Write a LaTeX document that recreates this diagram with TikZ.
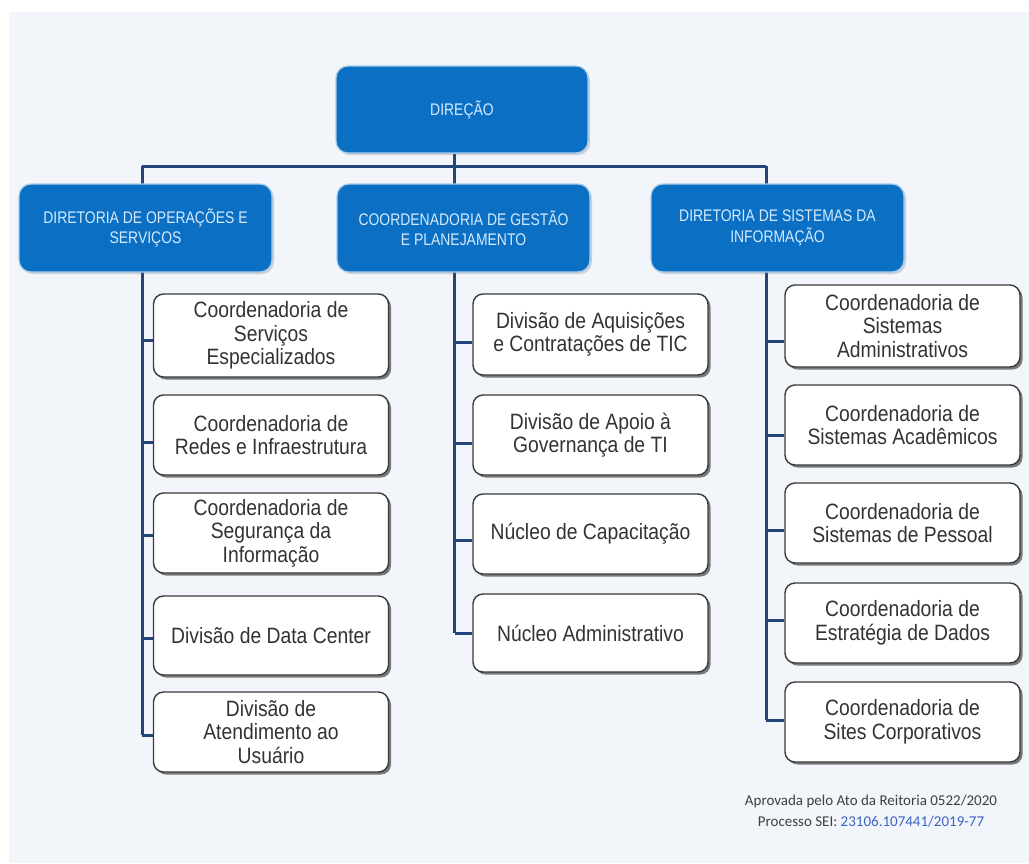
\documentclass[tikz,border=0pt]{standalone}
\usepackage{fontspec}
\setmainfont{Liberation Sans}
\newfontfamily\headfont[FakeStretch=0.83]{Liberation Sans}
\newfontfamily\unitfont[FakeStretch=0.87]{Liberation Sans}
\newfontfamily\notefont{Carlito}
\usetikzlibrary{shadows}

\definecolor{panelbg}{HTML}{F2F6FA}
\definecolor{headblue}{HTML}{0B6FC4}
\definecolor{headedge}{HTML}{A8CBEA}
\definecolor{headtext}{HTML}{D4EAFC}
\definecolor{linkblue}{HTML}{23467A}
\definecolor{unitedge}{HTML}{3A3A3A}
\definecolor{unittext}{HTML}{333333}
\definecolor{notetext}{HTML}{404040}
\definecolor{noteblue}{HTML}{3E63C4}

\pgfdeclarelayer{under}
\pgfsetlayers{under,main}

\begin{document}
\begin{tikzpicture}[x=1pt, y=-1pt,
  headbox/.style={draw=headedge, line width=1.2pt, fill=headblue,
    rounded corners=12pt, text=headtext, align=center, inner sep=2pt,
    font=\headfont\fontsize{16.8}{20.5}\selectfont,
    drop shadow={shadow xshift=2pt, shadow yshift=-2pt, opacity=0.25, fill=black!60}},
  unitbox/.style={draw=unitedge, line width=1.4pt, fill=white,
    rounded corners=10pt, text=unittext, align=center, inner sep=2pt,
    minimum width=235pt,
    font=\unitfont\fontsize{22.2}{23.5}\selectfont,
    drop shadow={shadow xshift=2.5pt, shadow yshift=-2.5pt, opacity=0.6, fill=black!85}},
  link/.style={draw=linkblue, line width=3pt}]

\useasboundingbox (0,0) rectangle (1029,863);

% top level
\node[headbox, minimum width=252pt, minimum height=87pt] (dir) at (462,109.5) {DIREÇÃO};

% second level
\node[headbox, minimum width=253pt, minimum height=88pt] (dos) at (145.5,228)
  {DIRETORIA DE OPERAÇÕES E\\SERVIÇOS};
\node[headbox, minimum width=253pt, minimum height=88pt] (cgp) at (463.5,228)
  {COORDENADORIA DE GESTÃO\\E PLANEJAMENTO};
\node[headbox, minimum width=253pt, minimum height=88pt] (dsi) at (777.5,228)
  {DIRETORIA DE SISTEMAS DA\\INFORMAÇÃO};

% units under Diretoria de Operações e Serviços
\node[unitbox, minimum height=83pt] (o1) at (271,335.5) {Coordenadoria de\\Serviços\\Especializados};
\node[unitbox, minimum height=80pt] (o2) at (271,435) {Coordenadoria de\\Redes e Infraestrutura};
\node[unitbox, minimum height=80pt] (o3) at (271,533) {Coordenadoria de\\Segurança da\\Informação};
\node[unitbox, minimum height=79pt] (o4) at (271,635.5) {Divisão de Data Center};
\node[unitbox, minimum height=80pt] (o5) at (271,732) {Divisão de\\Atendimento ao\\Usuário};

% units under Coordenadoria de Gestão e Planejamento
\node[unitbox, minimum height=81pt] (g1) at (590.5,334.5) {Divisão de Aquisições\\e Contratações de TIC};
\node[unitbox, minimum height=80pt] (g2) at (590.5,435) {Divisão de Apoio à\\Governança de TI};
\node[unitbox, minimum height=80pt] (g3) at (590.5,534) {Núcleo de Capacitação};
\node[unitbox, minimum height=78pt] (g4) at (590.5,633) {Núcleo Administrativo};

% units under Diretoria de Sistemas da Informação
\node[unitbox, minimum height=82pt] (s1) at (902.5,326) {Coordenadoria de\\Sistemas\\Administrativos};
\node[unitbox, minimum height=80pt] (s2) at (902.5,425) {Coordenadoria de\\Sistemas Acadêmicos};
\node[unitbox, minimum height=80pt] (s3) at (902.5,523) {Coordenadoria de\\Sistemas de Pessoal};
\node[unitbox, minimum height=80pt] (s4) at (902.5,623) {Coordenadoria de\\Estratégia de Dados};
\node[unitbox, minimum height=80pt] (s5) at (902.5,722) {Coordenadoria de\\Sites Corporativos};

% approval note
\node[font=\notefont\fontsize{15}{21}\selectfont, text=notetext, align=center] (note) at (871,811)
  {Aprovada pelo Ato da Reitoria 0522/2020\\Processo SEI: \textcolor{noteblue}{23106.107441/2019-77}};

% panel and connectors, behind the boxes
\begin{pgfonlayer}{under}
  \fill[panelbg] (9,12) rectangle (1029,863);

  \coordinate (busL) at (142,166);
  \coordinate (busR) at (766,166);
  \coordinate (trO) at (142,735);
  \coordinate (trG) at (454.5,633);
  \coordinate (trS) at (766,720);

  % bus from the top box to the three branches
  \draw[link] (dir.south -| trG) -- (busL -| trG);
  \draw[link] (busL) -- (busR);

  % trunks
  \draw[link] (busL) -- (trO);
  \draw[link] (busL -| trG) -- (trG);
  \draw[link] (busR) -- (trS);

  % stubs to the units
  \draw[link] (trO |- 0,340) -- (o1.west |- 0,340);
  \draw[link] (trO |- 0,442) -- (o2.west |- 0,442);
  \draw[link] (trO |- 0,535) -- (o3.west |- 0,535);
  \draw[link] (trO |- 0,638) -- (o4.west |- 0,638);
  \draw[link] (trO |- 0,735) -- (o5.west |- 0,735);

  \draw[link] (trG |- 0,342) -- (g1.west |- 0,342);
  \draw[link] (trG |- 0,443) -- (g2.west |- 0,443);
  \draw[link] (trG |- 0,540) -- (g3.west |- 0,540);
  \draw[link] (trG |- 0,633) -- (g4.west |- 0,633);

  \draw[link] (trS |- 0,341) -- (s1.west |- 0,341);
  \draw[link] (trS |- 0,435) -- (s2.west |- 0,435);
  \draw[link] (trS |- 0,530) -- (s3.west |- 0,530);
  \draw[link] (trS |- 0,620) -- (s4.west |- 0,620);
  \draw[link] (trS |- 0,720) -- (s5.west |- 0,720);
\end{pgfonlayer}
\end{tikzpicture}
\end{document}
